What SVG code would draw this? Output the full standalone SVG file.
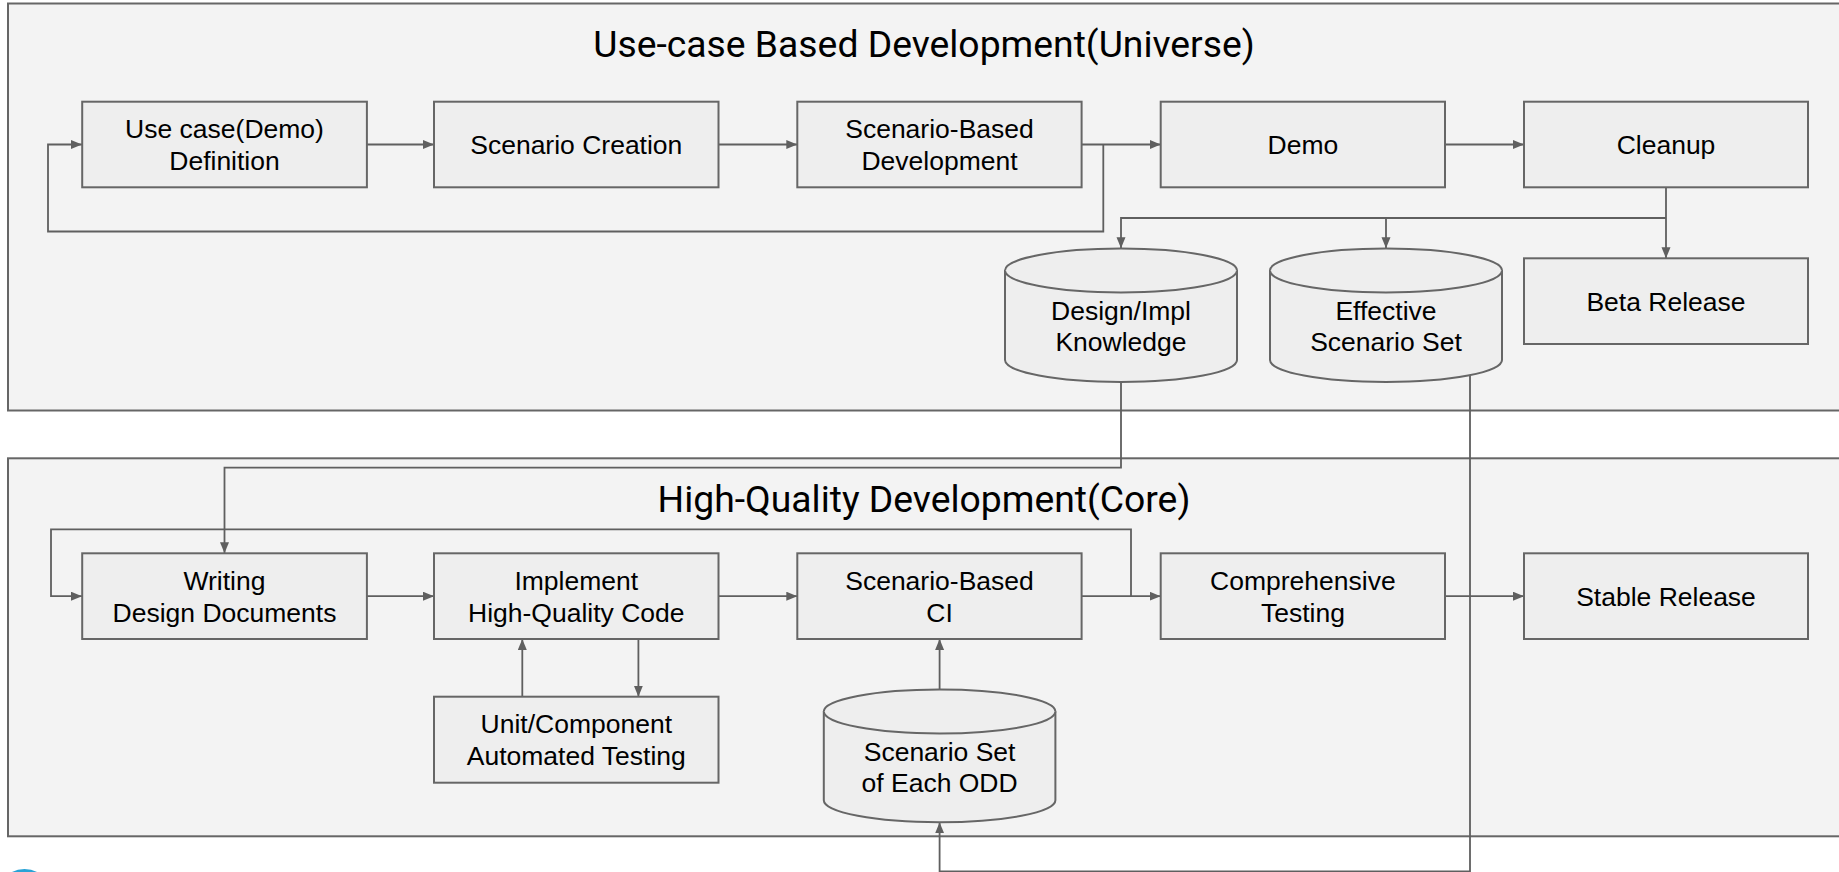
<svg xmlns="http://www.w3.org/2000/svg" width="1839" height="872" viewBox="0 0 1839 872">
  <defs>
    <marker id="arrow" markerUnits="userSpaceOnUse" markerWidth="12" markerHeight="10" refX="11" refY="4.5" orient="auto">
      <path d="M0,0 L11,4.5 L0,9 z" fill="#5f5f5f"/>
    </marker>
    <style>
      .lane { fill: #f3f3f3; stroke: #666666; stroke-width: 2; }
      .box { fill: #eeeeee; stroke: #666666; stroke-width: 2; }
      .cyl { fill: #eeeeee; stroke: #666666; stroke-width: 2; }
      .edge { fill: none; stroke: #5f5f5f; stroke-width: 1.8; }
      .arr { marker-end: url(#arrow); }
      .lbl { font-family: "Liberation Sans", Arial, sans-serif; font-size: 26.5px; fill: #000000; text-anchor: middle; }
      .title { font-family: Roboto, "Liberation Sans", sans-serif; font-size: 37.3px; fill: #000000; text-anchor: middle; }
    </style>
  </defs>

  <rect width="1839" height="872" fill="#ffffff"/>

  <!-- swimlanes -->
  <g id="lane-universe">
    <rect class="lane" x="8" y="3.5" width="1845" height="407"/>
    <text class="title" x="924" y="57">Use-case Based Development(Universe)</text>
  </g>
  <g id="lane-core">
    <rect class="lane" x="8" y="458.3" width="1845" height="378"/>
    <text class="title" x="924" y="512">High-Quality Development(Core)</text>
  </g>

  <!-- connectors -->
  <g id="connectors">
    <path class="edge arr" d="M367,144.5 H434"/>
    <path class="edge arr" d="M718.5,144.5 H797.3"/>
    <path class="edge arr" d="M1081.6,144.5 H1160.7"/>
    <path class="edge arr" d="M1103.3,144.5 V231.5 H48 V144.5 H82"/>
    <path class="edge arr" d="M1445,144.5 H1524"/>
    <path class="edge arr" d="M1666,187.3 V258.3"/>
    <path class="edge arr" d="M1666,218 H1121 V248.3"/>
    <path class="edge arr" d="M1386,218 V248.3"/>
    <path class="edge arr" d="M1121,381.7 V467.7 H224.5 V553.3"/>
    <path class="edge arr" d="M1470,375.2 V871.5 H939.6 V822.3"/>
    <path class="edge arr" d="M367,596.2 H434"/>
    <path class="edge arr" d="M1131,596.2 V529.3 H51 V596.2 H82"/>
    <path class="edge arr" d="M718.5,596.2 H797.3"/>
    <path class="edge arr" d="M1081.6,596.2 H1160.7"/>
    <path class="edge arr" d="M1445,596.2 H1524"/>
    <path class="edge arr" d="M522.3,696.7 V639"/>
    <path class="edge arr" d="M638.4,639 V696.7"/>
    <path class="edge arr" d="M939.6,689.3 V639"/>
  </g>

  <!-- top row -->
  <g id="usecase-definition">
    <rect class="box" x="82.2" y="101.7" width="284.7" height="85.6"/>
    <text class="lbl" x="224.5" y="138.3">Use case(Demo)</text>
    <text class="lbl" x="224.5" y="170">Definition</text>
  </g>
  <g id="scenario-creation">
    <rect class="box" x="434" y="101.7" width="284.5" height="85.6"/>
    <text class="lbl" x="576.3" y="154">Scenario Creation</text>
  </g>
  <g id="scenario-based-development">
    <rect class="box" x="797.3" y="101.7" width="284.3" height="85.6"/>
    <text class="lbl" x="939.5" y="138.3">Scenario-Based</text>
    <text class="lbl" x="939.5" y="170">Development</text>
  </g>
  <g id="demo">
    <rect class="box" x="1160.7" y="101.7" width="284.3" height="85.6"/>
    <text class="lbl" x="1302.9" y="154">Demo</text>
  </g>
  <g id="cleanup">
    <rect class="box" x="1524" y="101.7" width="284" height="85.6"/>
    <text class="lbl" x="1666" y="154">Cleanup</text>
  </g>
  <g id="beta-release">
    <rect class="box" x="1524" y="258.3" width="284" height="85.7"/>
    <text class="lbl" x="1666" y="310.7">Beta Release</text>
  </g>
  <g id="design-impl-knowledge">
    <path class="cyl" d="M1005,270.5 V360 A116,22 0 0 0 1237,360 V270.5 A116,22 0 0 0 1005,270.5 Z"/>
    <path class="cyl" d="M1005,270.5 A116,22 0 0 0 1237,270.5" fill="none"/>
    <text class="lbl" x="1121" y="320">Design/Impl</text>
    <text class="lbl" x="1121" y="351">Knowledge</text>
  </g>
  <g id="effective-scenario-set">
    <path class="cyl" d="M1270,270.5 V360 A116,22 0 0 0 1502,360 V270.5 A116,22 0 0 0 1270,270.5 Z"/>
    <path class="cyl" d="M1270,270.5 A116,22 0 0 0 1502,270.5" fill="none"/>
    <text class="lbl" x="1386" y="319.5">Effective</text>
    <text class="lbl" x="1386" y="351">Scenario Set</text>
  </g>

  <!-- bottom row -->
  <g id="writing-design-documents">
    <rect class="box" x="82.2" y="553.3" width="284.7" height="85.7"/>
    <text class="lbl" x="224.5" y="590">Writing</text>
    <text class="lbl" x="224.5" y="621.7">Design Documents</text>
  </g>
  <g id="implement-code">
    <rect class="box" x="434" y="553.3" width="284.5" height="85.7"/>
    <text class="lbl" x="576.3" y="590">Implement</text>
    <text class="lbl" x="576.3" y="621.7">High-Quality Code</text>
  </g>
  <g id="scenario-based-ci">
    <rect class="box" x="797.3" y="553.3" width="284.3" height="85.7"/>
    <text class="lbl" x="939.5" y="590">Scenario-Based</text>
    <text class="lbl" x="939.5" y="621.7">CI</text>
  </g>
  <g id="comprehensive-testing">
    <rect class="box" x="1160.7" y="553.3" width="284.3" height="85.7"/>
    <text class="lbl" x="1302.9" y="590">Comprehensive</text>
    <text class="lbl" x="1302.9" y="621.7">Testing</text>
  </g>
  <g id="stable-release">
    <rect class="box" x="1524" y="553.3" width="284" height="85.7"/>
    <text class="lbl" x="1666" y="605.5">Stable Release</text>
  </g>
  <g id="unit-component-testing">
    <rect class="box" x="434" y="696.7" width="284.5" height="86"/>
    <text class="lbl" x="576.3" y="733.4">Unit/Component</text>
    <text class="lbl" x="576.3" y="765.1">Automated Testing</text>
  </g>
  <g id="scenario-set-each-odd">
    <path class="cyl" d="M823.8,711.5 V800.3 A115.8,22 0 0 0 1055.4,800.3 V711.5 A115.8,22 0 0 0 823.8,711.5 Z"/>
    <path class="cyl" d="M823.8,711.5 A115.8,22 0 0 0 1055.4,711.5" fill="none"/>
    <text class="lbl" x="939.6" y="760.7">Scenario Set</text>
    <text class="lbl" x="939.6" y="791.7">of Each ODD</text>
  </g>

  <!-- partly visible badge in the lower-left corner -->
  <circle cx="24.5" cy="896" r="25" fill="none" stroke="#29a3d6" stroke-width="4"/>
</svg>
